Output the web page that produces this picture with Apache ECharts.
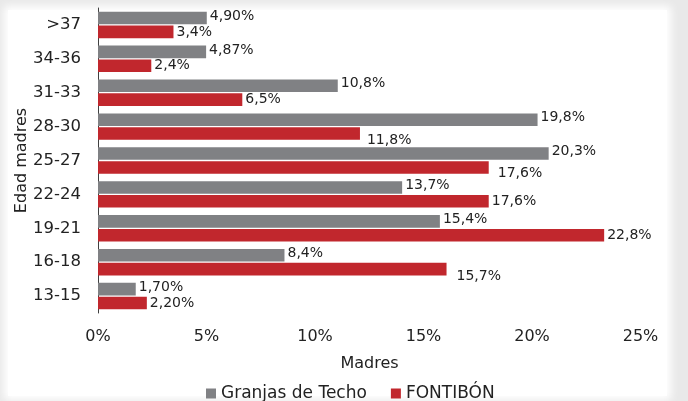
<!DOCTYPE html>
<html>
<head>
<meta charset="utf-8">
<script src="https://cdn.jsdelivr.net/npm/echarts@6/dist/echarts.min.js"></script>
<style>
  html, body { margin: 0; padding: 0; background: #e9e9e9; }
  .panel {
    position: absolute; left: 8px; top: 10px; width: 659px; height: 386px;
    background: #fff; box-shadow: 0 0 8px 4px #fff;
  }
  #main { position: absolute; left: 0; top: 0; width: 688px; height: 401px; }
</style>
</head>
<body>
<div class="panel"></div>
<div id="main"></div>
<script>
  // categorias (de abajo hacia arriba)
  var edades = ['13-15', '16-18', '19-21', '22-24', '25-27', '28-30', '31-33', '34-36', '>37'];
  var granjas = [1.70, 8.4, 15.4, 13.7, 20.3, 19.8, 10.8, 4.87, 4.90];
  var fontibon = [2.20, 15.7, 22.8, 17.6, 17.6, 11.8, 6.5, 2.4, 3.4];
  // texto de las etiquetas tal como aparece
  var granjasTxt = ['1,70%', '8,4%', '15,4%', '13,7%', '20,3%', '19,8%', '10,8%', '4,87%', '4,90%'];
  var fontibonTxt = ['2,20%', '15,7%', '22,8%', '17,6%', '17,6%', '11,8%', '6,5%', '2,4%', '3,4%'];
  var ticks = ['0%', '5%', '10%', '15%', '20%', '25%'];

  var font = 'DejaVu Sans, Verdana, sans-serif';
  // desplazamiento de algunas etiquetas rojas (como en el original)
  var moverRojo = { 1: [7, 7], 4: [6, 6], 5: [4, 7] };

  // las etiquetas del eje x quedan un poco corridas a la izquierda en el original
  var richTicks = {};
  for (var k = 0; k < ticks.length; k++) {
    richTicks['t' + k] = { fontSize: 16, color: '#222', padding: [0, k * 5, 0, 0] };
  }

  var chart = echarts.init(document.getElementById('main'));
  chart.setOption({
    animation: false,
    textStyle: { fontFamily: font },
    grid: { left: 98, right: 35, top: 8, bottom: 88 },
    legend: {
      top: 380,
      left: 201,
      itemWidth: 10,
      itemHeight: 10,
      itemGap: 24,
      icon: 'rect',
      textStyle: { fontSize: 17, color: '#222', fontFamily: font },
      data: ['Granjas de Techo', 'FONTIBÓN']
    },
    xAxis: {
      type: 'value',
      min: 0,
      max: 25,
      interval: 5,
      name: 'Madres',
      nameLocation: 'middle',
      nameGap: 43,
      nameTextStyle: { fontSize: 16, color: '#222', padding: [0, 12, 0, 0] },
      axisLine: { show: false },
      axisTick: { show: false },
      splitLine: { show: false },
      axisLabel: {
        fontSize: 16,
        color: '#222',
        margin: 16,
        formatter: function (v) { var i = Math.round(v / 5); return '{t' + i + '|' + ticks[i] + '}'; },
        rich: richTicks
      }
    },
    yAxis: {
      type: 'category',
      data: edades,
      name: 'Edad madres',
      nameLocation: 'middle',
      nameGap: 68,
      nameMoveOverlap: false,
      nameTextStyle: { fontSize: 16, color: '#222' },
      axisLine: { show: true, lineStyle: { color: '#404040', width: 1 } },
      axisTick: { show: false },
      axisLabel: { fontSize: 16.5, color: '#222', margin: 17 }
    },
    series: [
      {
        name: 'Granjas de Techo',
        type: 'bar',
        data: granjas,
        itemStyle: { color: '#808184' },
        barCategoryGap: '22%',
        barGap: '10%',
        label: {
          show: true,
          position: 'right',
          distance: 3,
          offset: [0, -2],
          fontSize: 14,
          color: '#222',
          formatter: function (p) { return granjasTxt[p.dataIndex]; }
        }
      },
      {
        name: 'FONTIBÓN',
        type: 'bar',
        data: fontibon.map(function (v, i) {
          var d = { value: v };
          if (moverRojo[i]) d.label = { offset: moverRojo[i] };
          return d;
        }),
        itemStyle: { color: '#c1272d' },
        barCategoryGap: '22%',
        barGap: '10%',
        label: {
          show: true,
          position: 'right',
          distance: 3,
          fontSize: 14,
          color: '#222',
          formatter: function (p) { return fontibonTxt[p.dataIndex]; }
        }
      }
    ]
  });
</script>
</body>
</html>
